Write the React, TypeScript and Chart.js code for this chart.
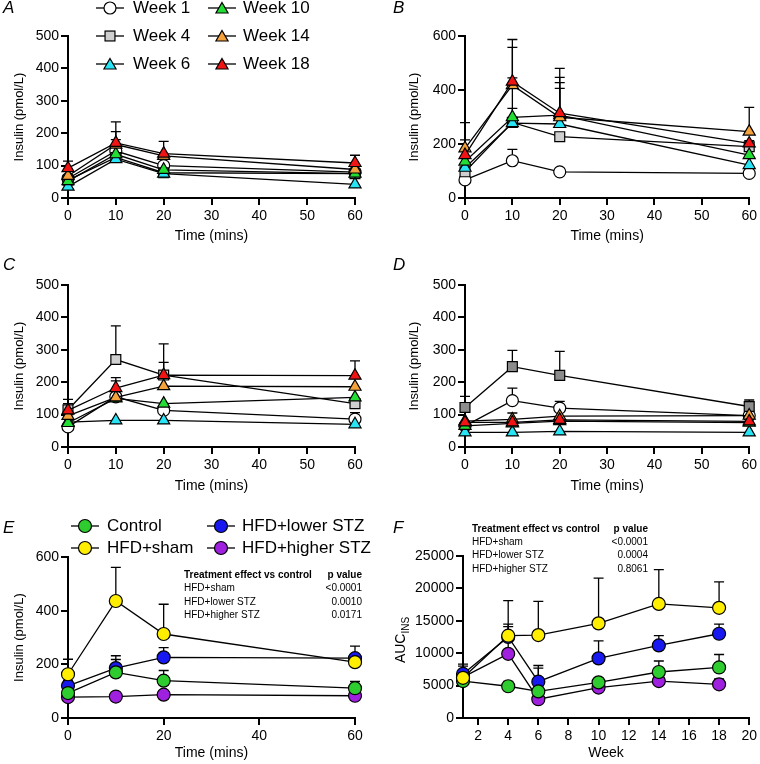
import React, { useEffect, useRef } from 'react';
import { Chart, registerables } from 'chart.js';

Chart.register(...registerables);

const FONT = "'Liberation Sans', Arial, Helvetica, sans-serif";

// ---------- categories ----------
const TIMES = [0, 10, 20, 60];
const WEEKS = [1, 4, 6, 10, 14, 18];
const WEEK_LABELS = ['Week 1', 'Week 4', 'Week 6', 'Week 10', 'Week 14', 'Week 18'];
const GROUP_LABELS = ['Control', 'HFD+sham', 'HFD+lower STZ', 'HFD+higher STZ'];

// ---------- tick labels ----------
const TIME_TICKS = [0, 10, 20, 30, 40, 50, 60];
const TIME_TICKS_E = [0, 20, 40, 60];
const WEEK_TICKS = [2, 4, 6, 8, 10, 12, 14, 16, 18, 20];
const INS_TICKS_500 = [0, 100, 200, 300, 400, 500];
const INS_TICKS_600 = [0, 200, 400, 600];
const AUC_TICKS = [0, 5000, 10000, 15000, 20000, 25000];

// ---------- Panel A ----------
const A_W1 = [60, 145, 100, 80];
const A_W1_ERR = [0, 35, 0, 0];
const A_W4 = [55, 125, 78, 75];
const A_W4_ERR = [0, 0, 0, 0];
const A_W6 = [35, 120, 75, 42];
const A_W6_ERR = [0, 0, 0, 0];
const A_W10 = [52, 135, 87, 75];
const A_W10_ERR = [0, 0, 0, 0];
const A_W14 = [68, 165, 130, 88];
const A_W14_ERR = [0, 40, 0, 0];
const A_W18 = [92, 170, 137, 108];
const A_W18_ERR = [22, 65, 38, 24];

// ---------- Panel B ----------
const B_W1 = [67, 138, 97, 91];
const B_W1_ERR = [0, 42, 0, 0];
const B_W4 = [97, 280, 227, 190];
const B_W4_ERR = [0, 52, 0, 0];
const B_W6 = [112, 277, 274, 122];
const B_W6_ERR = [0, 0, 132, 0];
const B_W10 = [135, 299, 307, 159];
const B_W10_ERR = [0, 146, 120, 0];
const B_W14 = [184, 418, 299, 246];
const B_W14_ERR = [95, 140, 148, 90];
const B_W18 = [159, 431, 314, 202];
const B_W18_ERR = [56, 156, 166, 10];

// ---------- Panel C ----------
const C_W1 = [62, 155, 113, 86];
const C_W1_ERR = [0, 0, 0, 20];
const C_W4 = [115, 270, 222, 134];
const C_W4_ERR = [32, 104, 96, 0];
const C_W6 = [77, 82, 82, 70];
const C_W6_ERR = [0, 0, 0, 0];
const C_W10 = [74, 150, 134, 153];
const C_W10_ERR = [0, 0, 0, 0];
const C_W14 = [96, 153, 188, 186];
const C_W14_ERR = [0, 51, 0, 0];
const C_W18 = [113, 182, 222, 220];
const C_W18_ERR = [21, 32, 39, 46];

// ---------- Panel D ----------
const D_W1 = [65, 143, 120, 97];
const D_W1_ERR = [0, 39, 21, 0];
const D_W4 = [122, 248, 221, 125];
const D_W4_ERR = [34, 50, 74, 20];
const D_W6 = [45, 45, 48, 45];
const D_W6_ERR = [0, 0, 0, 0];
const D_W10 = [65, 73, 80, 75];
const D_W10_ERR = [0, 0, 0, 0];
const D_W14 = [80, 85, 95, 97];
const D_W14_ERR = [0, 20, 0, 0];
const D_W18 = [76, 76, 84, 79];
const D_W18_ERR = [0, 0, 0, 0];

// ---------- Panel E ----------
const E_CONTROL = [93, 170, 139, 111];
const E_CONTROL_ERR = [47, 62, 38, 25];
const E_SHAM = [163, 436, 313, 208];
const E_SHAM_ERR = [56, 125, 111, 0];
const E_LOWER = [120, 186, 226, 223];
const E_LOWER_ERR = [0, 32, 36, 45];
const E_HIGHER = [78, 80, 87, 83];
const E_HIGHER_ERR = [0, 0, 0, 0];

// ---------- Panel F ----------
const F_CONTROL = [5700, 4900, 4100, 5500, 7100, 7800];
const F_CONTROL_ERR = [0, 750, 3600, 0, 1700, 2000];
const F_SHAM = [6200, 12700, 12800, 14600, 17600, 17000];
const F_SHAM_ERR = [1800, 5400, 5200, 7000, 5300, 4000];
const F_LOWER = [6800, 12500, 5600, 9200, 11200, 13000];
const F_LOWER_ERR = [1500, 2000, 2500, 2700, 1500, 1500];
const F_HIGHER = [6300, 9900, 2900, 4700, 5700, 5200];
const F_HIGHER_ERR = [0, 4200, 0, 0, 0, 850];

// ---------- stats tables ----------
const STATS_HEADER = ['Treatment effect vs control', 'p value'];
const E_STATS_ROWS = ['HFD+sham', 'HFD+lower STZ', 'HFD+higher STZ'];
const E_STATS_P = ['<0.0001', '0.0010', '0.0171'];
const F_STATS_ROWS = ['HFD+sham', 'HFD+lower STZ', 'HFD+higher STZ'];
const F_STATS_P = ['<0.0001', '0.0004', '0.8061'];

// ---------- styles ----------
const WEEK_STYLES = [
  { shape: 'circle', color: '#ffffff', r: 6 },
  { shape: 'rect', color: '#cfcfcf', r: 7 },
  { shape: 'triangle', color: '#28e4f4', r: 7 },
  { shape: 'triangle', color: '#22dd33', r: 7 },
  { shape: 'triangle', color: '#f4a23c', r: 7 },
  { shape: 'triangle', color: '#f01414', r: 7 },
];
const GROUP_COLORS = ['#2ecc2e', '#ffee00', '#1818f0', '#a020e0'];
const GROUP_ORDER = [1, 0, 2, 3];

const errorBarPlugin = {
  id: 'errorBars',
  beforeDatasetsDraw(chart: any) {
    const ctx = chart.ctx;
    const xs = chart.scales.x;
    const ys = chart.scales.y;
    ctx.save();
    ctx.strokeStyle = '#000';
    ctx.lineWidth = 1.3;
    chart.data.datasets.forEach((ds: any) => {
      const errs = ds.errors;
      if (!errs) return;
      ds.data.forEach((pt: any, j: number) => {
        const e = errs[j];
        if (!e) return;
        const x = xs.getPixelForValue(pt.x);
        const y0 = ys.getPixelForValue(pt.y);
        const y1 = ys.getPixelForValue(pt.y + e);
        ctx.beginPath();
        ctx.moveTo(x, y0);
        ctx.lineTo(x, y1);
        ctx.moveTo(x - 5, y1);
        ctx.lineTo(x + 5, y1);
        ctx.stroke();
      });
    });
    ctx.restore();
  },
};

function weekDatasets(vals: number[][], errs: number[][], squareColor?: string) {
  return vals.map((v, i) => {
    const st = WEEK_STYLES[i];
    return {
      label: WEEK_LABELS[i],
      data: TIMES.map((t, j) => ({ x: t, y: v[j] })),
      errors: errs[i],
      showLine: true,
      borderColor: '#000',
      borderWidth: 1.3,
      pointStyle: st.shape,
      pointRadius: st.r,
      pointBackgroundColor: i === 1 && squareColor ? squareColor : st.color,
      pointBorderColor: '#000',
      pointBorderWidth: 1.2,
      clip: false,
      order: 5 - i,
    };
  });
}

function groupDatasets(xs: number[], vals: number[][], errs: number[][]) {
  return vals.map((v, i) => ({
    label: GROUP_LABELS[i],
    data: xs.map((t, j) => ({ x: t, y: v[j] })),
    errors: errs[i],
    showLine: true,
    borderColor: '#000',
    borderWidth: 1.3,
    pointStyle: 'circle',
    pointRadius: 6.5,
    pointBackgroundColor: GROUP_COLORS[i],
    pointBorderColor: '#000',
    pointBorderWidth: 1.2,
    clip: false,
    order: GROUP_ORDER[i],
  }));
}

type Spec = {
  key: string;
  left: number; top: number; width: number; height: number;
  yWidth: number; padTop: number; padRight: number; xHeight: number;
  xMin: number; xMax: number; xTicks: number[];
  yMax: number; yTicks: number[];
  xTitle: string; xTitlePad: number;
  yTitle: string | null; yTitlePad: number;
  datasets: any[];
};

const SPECS: Spec[] = [
  {
    key: 'A', left: 0, top: 0, width: 380, height: 250,
    yWidth: 68, padTop: 36, padRight: 25, xHeight: 52,
    xMin: 0, xMax: 60, xTicks: TIME_TICKS, yMax: 500, yTicks: INS_TICKS_500,
    xTitle: 'Time (mins)', xTitlePad: 5.5, yTitle: 'Insulin (pmol/L)', yTitlePad: 12,
    datasets: weekDatasets([A_W1, A_W4, A_W6, A_W10, A_W14, A_W18], [A_W1_ERR, A_W4_ERR, A_W6_ERR, A_W10_ERR, A_W14_ERR, A_W18_ERR]),
  },
  {
    key: 'B', left: 380, top: 0, width: 380, height: 250,
    yWidth: 85, padTop: 36, padRight: 9, xHeight: 52,
    xMin: 0, xMax: 60, xTicks: TIME_TICKS, yMax: 600, yTicks: INS_TICKS_600,
    xTitle: 'Time (mins)', xTitlePad: 5.5, yTitle: 'Insulin (pmol/L)', yTitlePad: 27,
    datasets: weekDatasets([B_W1, B_W4, B_W6, B_W10, B_W14, B_W18], [B_W1_ERR, B_W4_ERR, B_W6_ERR, B_W10_ERR, B_W14_ERR, B_W18_ERR]),
  },
  {
    key: 'C', left: 0, top: 250, width: 380, height: 250,
    yWidth: 68, padTop: 35, padRight: 25, xHeight: 53,
    xMin: 0, xMax: 60, xTicks: TIME_TICKS, yMax: 500, yTicks: INS_TICKS_500,
    xTitle: 'Time (mins)', xTitlePad: 5.5, yTitle: 'Insulin (pmol/L)', yTitlePad: 12,
    datasets: weekDatasets([C_W1, C_W4, C_W6, C_W10, C_W14, C_W18], [C_W1_ERR, C_W4_ERR, C_W6_ERR, C_W10_ERR, C_W14_ERR, C_W18_ERR]),
  },
  {
    key: 'D', left: 380, top: 250, width: 380, height: 250,
    yWidth: 85, padTop: 35, padRight: 9, xHeight: 53,
    xMin: 0, xMax: 60, xTicks: TIME_TICKS, yMax: 500, yTicks: INS_TICKS_500,
    xTitle: 'Time (mins)', xTitlePad: 5.5, yTitle: 'Insulin (pmol/L)', yTitlePad: 27,
    datasets: weekDatasets([D_W1, D_W4, D_W6, D_W10, D_W14, D_W18], [D_W1_ERR, D_W4_ERR, D_W6_ERR, D_W10_ERR, D_W14_ERR, D_W18_ERR], '#8c8c8c'),
  },
  {
    key: 'E', left: 0, top: 505, width: 380, height: 259,
    yWidth: 68, padTop: 52, padRight: 25, xHeight: 46,
    xMin: 0, xMax: 60, xTicks: TIME_TICKS_E, yMax: 600, yTicks: INS_TICKS_600,
    xTitle: 'Time (mins)', xTitlePad: 2.5, yTitle: 'Insulin (pmol/L)', yTitlePad: 12,
    datasets: groupDatasets(TIMES, [E_CONTROL, E_SHAM, E_LOWER, E_HIGHER], [E_CONTROL_ERR, E_SHAM_ERR, E_LOWER_ERR, E_HIGHER_ERR]),
  },
  {
    key: 'F', left: 380, top: 505, width: 380, height: 259,
    yWidth: 83, padTop: 51, padRight: 9, xHeight: 46,
    xMin: 1, xMax: 20, xTicks: WEEK_TICKS, yMax: 25000, yTicks: AUC_TICKS,
    xTitle: 'Week', xTitlePad: 2.5, yTitle: null, yTitlePad: 0,
    datasets: groupDatasets(WEEKS, [F_CONTROL, F_SHAM, F_LOWER, F_HIGHER], [F_CONTROL_ERR, F_SHAM_ERR, F_LOWER_ERR, F_HIGHER_ERR]),
  },
];

function Panel({ spec }: { spec: Spec }) {
  const ref = useRef<HTMLCanvasElement | null>(null);
  useEffect(() => {
    if (!ref.current) return;
    const tickFont = { family: FONT, size: 14 };
    const chart = new Chart(ref.current, {
      type: 'scatter',
      data: { datasets: spec.datasets },
      options: {
        responsive: false,
        animation: false,
        devicePixelRatio: 1,
        layout: { padding: { left: 0, top: spec.padTop, right: spec.padRight, bottom: 0 } },
        plugins: { legend: { display: false }, tooltip: { enabled: false } },
        scales: {
          x: {
            type: 'linear',
            min: spec.xMin,
            max: spec.xMax,
            afterBuildTicks: (s: any) => { s.ticks = spec.xTicks.map((v) => ({ value: v })); },
            ticks: { autoSkip: false, maxRotation: 0, minRotation: 0, color: '#000', font: tickFont, padding: 3, callback: (v: any) => String(v) },
            grid: { drawOnChartArea: false, drawTicks: true, tickLength: 7, color: '#000', lineWidth: 2 },
            border: { display: true, color: '#000', width: 2 },
            title: { display: true, text: spec.xTitle, color: '#000', font: { family: FONT, size: 14 }, padding: { top: 0, bottom: spec.xTitlePad } },
            afterFit: (s: any) => { s.height = spec.xHeight; },
          },
          y: {
            type: 'linear',
            min: 0,
            max: spec.yMax,
            afterBuildTicks: (s: any) => { s.ticks = spec.yTicks.map((v) => ({ value: v })); },
            ticks: { autoSkip: false, color: '#000', font: tickFont, padding: 2, callback: (v: any) => String(v) },
            grid: { drawOnChartArea: false, drawTicks: true, tickLength: 7, color: '#000', lineWidth: 2 },
            border: { display: true, color: '#000', width: 2 },
            title: { display: !!spec.yTitle, text: spec.yTitle || '', color: '#000', font: { family: FONT, size: 13 }, padding: { top: spec.yTitlePad, bottom: 0 } },
            afterFit: (s: any) => { s.width = spec.yWidth; },
          },
        },
      } as any,
      plugins: [errorBarPlugin],
    });
    return () => chart.destroy();
  }, []);
  return (
    <canvas
      ref={ref}
      width={spec.width}
      height={spec.height}
      style={{ position: 'absolute', left: spec.left, top: spec.top, width: spec.width, height: spec.height }}
    />
  );
}

function Marker({ shape, color, r }: { shape: string; color: string; r: number }) {
  const w = 28;
  const h = 16;
  const cx = w / 2;
  const cy = h / 2;
  let m: any;
  if (shape === 'circle') m = <circle cx={cx} cy={cy} r={r} fill={color} stroke="#000" strokeWidth={1.2} />;
  else if (shape === 'rect') {
    const s = r * Math.SQRT1_2;
    m = <rect x={cx - s} y={cy - s} width={2 * s} height={2 * s} fill={color} stroke="#000" strokeWidth={1.2} />;
  } else {
    const p = [0, 1, 2].map((k) => {
      const a = (k * 2 * Math.PI) / 3;
      return `${cx + Math.sin(a) * r},${cy + 1.5 - Math.cos(a) * r}`;
    });
    m = <polygon points={p.join(' ')} fill={color} stroke="#000" strokeWidth={1.2} />;
  }
  return (
    <svg width={w} height={h} style={{ position: 'absolute', left: -w / 2, top: -h / 2, overflow: 'visible' }}>
      <line x1={0} y1={cy} x2={w} y2={cy} stroke="#000" strokeWidth={1.3} />
      {m}
    </svg>
  );
}

function LegendItem({ x, y, textX, label, shape, color, r }: any) {
  return (
    <>
      <div style={{ position: 'absolute', left: x, top: y, width: 0, height: 0 }}>
        <Marker shape={shape} color={color} r={r} />
      </div>
      <div style={{ position: 'absolute', left: textX, top: y - 11, fontFamily: FONT, fontSize: 17, lineHeight: '22px', whiteSpace: 'nowrap', color: '#000' }}>
        {label}
      </div>
    </>
  );
}

function StatsTable({ x, xr, y0, dy, rows, ps }: any) {
  const base: any = { position: 'absolute', fontFamily: FONT, fontSize: 10, lineHeight: '12px', whiteSpace: 'nowrap', color: '#000' };
  return (
    <>
      <div style={{ ...base, left: x, top: y0 - 6, fontWeight: 'bold' }}>{STATS_HEADER[0]}</div>
      <div style={{ ...base, right: 760 - xr, top: y0 - 6, fontWeight: 'bold' }}>{STATS_HEADER[1]}</div>
      {rows.map((r: string, i: number) => (
        <React.Fragment key={r}>
          <div style={{ ...base, left: x, top: y0 + dy * (i + 1) - 6 }}>{r}</div>
          <div style={{ ...base, right: 760 - xr, top: y0 + dy * (i + 1) - 6 }}>{ps[i]}</div>
        </React.Fragment>
      ))}
    </>
  );
}

const PANEL_LETTERS = [
  { t: 'A', x: 3, y: 8 },
  { t: 'B', x: 393, y: 8 },
  { t: 'C', x: 3, y: 265 },
  { t: 'D', x: 393, y: 265 },
  { t: 'E', x: 3, y: 528 },
  { t: 'F', x: 393, y: 528 },
];

export default function App() {
  const weekLegend = [
    { col: 0, row: 0 }, { col: 0, row: 1 }, { col: 0, row: 2 },
    { col: 1, row: 0 }, { col: 1, row: 1 }, { col: 1, row: 2 },
  ];
  const groupLegend = [
    { col: 0, row: 0 }, { col: 0, row: 1 }, { col: 1, row: 0 }, { col: 1, row: 1 },
  ];
  return (
    <div style={{ position: 'fixed', left: 0, top: 0, width: 760, height: 764, background: '#fff', overflow: 'hidden' }}>
      {SPECS.map((s) => <Panel key={s.key} spec={s} />)}
      {PANEL_LETTERS.map((p) => (
        <div key={p.t} style={{ position: 'absolute', left: p.x, top: p.y - 11, fontFamily: FONT, fontSize: 17, fontStyle: 'italic', lineHeight: '22px' }}>{p.t}</div>
      ))}
      {WEEK_LABELS.map((lab, i) => {
        const pos = weekLegend[i];
        const st = WEEK_STYLES[i];
        return (
          <LegendItem key={lab} label={lab} shape={st.shape} color={st.color} r={st.r}
            x={pos.col === 0 ? 110 : 222} textX={pos.col === 0 ? 133 : 243} y={8 + pos.row * 28} />
        );
      })}
      {GROUP_LABELS.map((lab, i) => {
        const pos = groupLegend[i];
        return (
          <LegendItem key={lab} label={lab} shape="circle" color={GROUP_COLORS[i]} r={6.5}
            x={pos.col === 0 ? 85 : 221} textX={pos.col === 0 ? 107 : 242} y={526 + pos.row * 22} />
        );
      })}
      <StatsTable x={184} xr={362} y0={575} dy={13.4} rows={E_STATS_ROWS} ps={E_STATS_P} />
      <StatsTable x={472} xr={648} y0={529} dy={13.2} rows={F_STATS_ROWS} ps={F_STATS_P} />
      <div style={{ position: 'absolute', left: 400, top: 640, width: 0, height: 0 }}>
        <div style={{ position: 'absolute', left: -50, top: -9, width: 100, textAlign: 'center', transform: 'rotate(-90deg)', fontFamily: FONT, fontSize: 14, lineHeight: '18px', whiteSpace: 'nowrap' }}>
          AUC<sub style={{ fontSize: 10, verticalAlign: 'sub', lineHeight: 0 }}>INS</sub>
        </div>
      </div>
    </div>
  );
}
